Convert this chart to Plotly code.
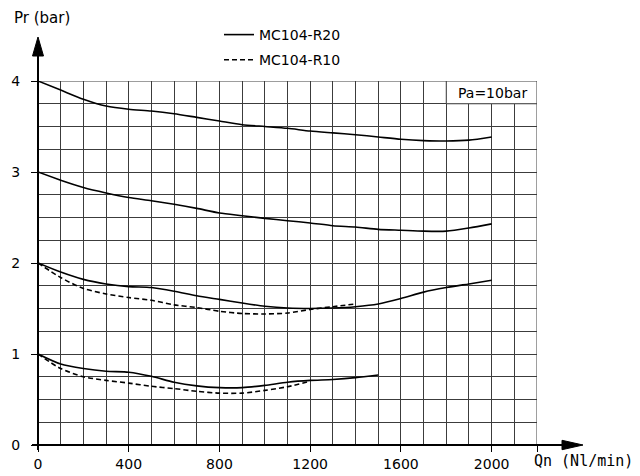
import plotly.graph_objects as go

# ---- data ----
x_full = [0, 100, 200, 300, 400, 500, 600, 700, 800, 900, 1000,
          1100, 1200, 1300, 1400, 1500, 1600, 1700, 1800, 1900, 2000]
r20_pa4 = [4.00, 3.90, 3.80, 3.725, 3.69, 3.67, 3.64, 3.60, 3.56, 3.52, 3.50,
           3.48, 3.45, 3.43, 3.41, 3.385, 3.36, 3.345, 3.34, 3.35, 3.385]
r20_pa3 = [3.00, 2.91, 2.83, 2.77, 2.72, 2.685, 2.645, 2.60, 2.55, 2.52, 2.49,
           2.465, 2.44, 2.41, 2.395, 2.37, 2.36, 2.35, 2.35, 2.385, 2.43]
r20_pa2 = [2.00, 1.90, 1.82, 1.77, 1.74, 1.73, 1.69, 1.64, 1.60, 1.56, 1.525,
           1.505, 1.50, 1.505, 1.52, 1.55, 1.61, 1.68, 1.73, 1.77, 1.81]
x_r20_pa1 = [0, 100, 200, 300, 400, 500, 600, 700, 800, 900, 1000,
             1100, 1200, 1300, 1400, 1500]
r20_pa1 = [1.00, 0.89, 0.84, 0.81, 0.80, 0.755, 0.69, 0.65, 0.63, 0.63, 0.655,
           0.69, 0.71, 0.72, 0.74, 0.77]

x_r10_pa2 = [0, 100, 200, 300, 400, 500, 600, 700, 800, 900, 1000,
             1100, 1200, 1300, 1400]
r10_pa2 = [2.00, 1.84, 1.72, 1.66, 1.62, 1.59, 1.54, 1.51, 1.47, 1.445, 1.44,
           1.45, 1.49, 1.52, 1.55]
x_r10_pa1 = [0, 100, 200, 300, 400, 500, 600, 700, 800, 900, 1000, 1100, 1200]
r10_pa1 = [1.00, 0.84, 0.75, 0.71, 0.68, 0.645, 0.62, 0.59, 0.57, 0.57, 0.60,
           0.64, 0.70]

x_tickvals = [0, 400, 800, 1200, 1600, 2000, 2200]
x_ticktext = ["0", "400", "800", "1200", "1600", "2000", ""]
y_tickvals = [0, 1, 2, 3, 4]
y_ticktext = ["0", "1", "2", "3", "4"]

FONT = "DejaVu Sans"
MONO = "DejaVu Sans Mono"
GRID = "#3c3c3c"

fig = go.Figure()

solid = [(x_full, r20_pa4), (x_full, r20_pa3), (x_full, r20_pa2), (x_r20_pa1, r20_pa1)]
for i, (xs, ys) in enumerate(solid):
    fig.add_trace(go.Scatter(
        x=xs, y=ys, mode="lines", name="MC104-R20", legendgroup="r20",
        showlegend=(i == 0), hoverinfo="skip",
        line=dict(color="black", width=1.6, shape="spline", smoothing=0.7)))

dashed = [(x_r10_pa2, r10_pa2), (x_r10_pa1, r10_pa1)]
for i, (xs, ys) in enumerate(dashed):
    fig.add_trace(go.Scatter(
        x=xs, y=ys, mode="lines", name="MC104-R10", legendgroup="r10",
        showlegend=(i == 0), hoverinfo="skip",
        line=dict(color="black", width=1.6, dash="5px,3px", shape="spline", smoothing=0.7)))

# plot area geometry (pixels)
L, R, T, B = 38, 103, 81, 31
W = 640 - L - R
H = 476 - T - B

def px(xp):
    return (xp - L) / W

def py(yp):
    return (476 - B - yp) / H

shapes = []
# "Pa=10bar" cell (covers the inner grid lines in that cell)
shapes.append(dict(type="rect", xref="x", yref="y", x0=1800, x1=2200, y0=3.75, y1=4,
                   fillcolor="white", line=dict(color=GRID, width=1), layer="above"))
# outer border right/top
shapes.append(dict(type="rect", xref="x", yref="y", x0=0, x1=2200, y0=0, y1=4,
                   line=dict(color=GRID, width=1), layer="below"))
# x axis line + arrow
shapes.append(dict(type="line", xref="paper", yref="paper", x0=px(32), x1=px(565),
                   y0=0, y1=0, line=dict(color="black", width=2)))
shapes.append(dict(type="path", xref="paper", yref="paper",
                   path=f"M {px(562)},{py(445-4.7)} L {px(583)},{py(445)} L {px(562)},{py(445+4.7)} Z",
                   fillcolor="black", line=dict(color="black", width=1)))
# y axis line + arrow
shapes.append(dict(type="line", xref="paper", yref="paper", x0=0, x1=0,
                   y0=py(450), y1=py(54), line=dict(color="black", width=2)))
shapes.append(dict(type="path", xref="paper", yref="paper",
                   path=f"M {px(38-5.5)},{py(56)} L {px(38)},{py(37)} L {px(38+5.5)},{py(56)} Z",
                   fillcolor="black", line=dict(color="black", width=1)))

annotations = [
    dict(text="Pr (bar)", xref="paper", yref="paper", x=px(12), y=py(18),
         xanchor="left", yanchor="middle", showarrow=False,
         font=dict(family=FONT, size=15, color="black")),
    dict(text="Qn (Nl/min)", xref="paper", yref="paper", x=px(532), y=py(461),
         xanchor="left", yanchor="middle", showarrow=False,
         font=dict(family=MONO, size=15, color="black")),
    dict(text="Pa=10bar", xref="x", yref="y", x=2005, y=3.87,
         xanchor="center", yanchor="middle", showarrow=False,
         font=dict(family=FONT, size=14, color="black")),
]

fig.update_layout(
    width=640, height=476,
    margin=dict(l=L, r=R, t=T, b=B, pad=0),
    paper_bgcolor="white", plot_bgcolor="white",
    font=dict(family=FONT, size=13, color="black"),
    showlegend=True,
    legend=dict(x=px(219), y=py(19), xanchor="left", yanchor="top",
                bgcolor="rgba(0,0,0,0)", font=dict(family=FONT, size=14),
                traceorder="grouped", tracegroupgap=4),
    shapes=shapes,
    annotations=annotations,
    xaxis=dict(range=[0, 2200], tickvals=x_tickvals, ticktext=x_ticktext,
               showgrid=True, gridcolor=GRID, gridwidth=1,
               ticks="outside", ticklen=6, tickcolor="black", tickwidth=1,
               minor=dict(dtick=100, showgrid=True, gridcolor=GRID, gridwidth=1, ticks=""),
               zeroline=False, showline=False, automargin=False,
               tickfont=dict(family=FONT, size=14)),
    yaxis=dict(range=[0, 4], tickvals=y_tickvals, ticktext=y_ticktext,
               showgrid=True, gridcolor=GRID, gridwidth=1,
               ticks="outside", ticklen=6, tickcolor="black", tickwidth=1,
               minor=dict(dtick=0.25, showgrid=True, gridcolor=GRID, gridwidth=1, ticks=""),
               zeroline=False, showline=False, automargin=False,
               ticklabelstandoff=8, tickfont=dict(family=FONT, size=14)),
)

fig.write_html("out.html", config={"displayModeBar": False},
               post_script="document.body.style.margin='0';document.body.style.overflow='hidden';")
